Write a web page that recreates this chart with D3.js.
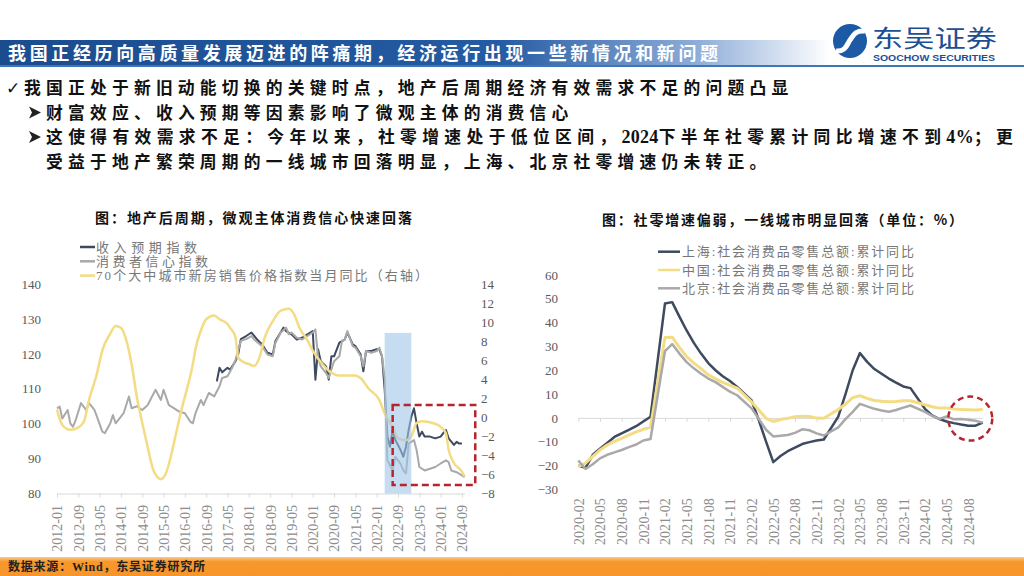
<!DOCTYPE html>
<html>
<head>
<meta charset="utf-8">
<script src="https://cdn.jsdelivr.net/npm/d3@7/dist/d3.min.js"></script>
<style>
html,body{margin:0;padding:0;background:#fff;}
svg{display:block;}
</style>
</head>
<body>
<svg id="slide" width="1024" height="576"></svg>
<script>
// ================= DATA =================
const headerTitle = "我国正经历向高质量发展迈进的阵痛期，经济运行出现一些新情况和新问题";
const bulletLines = [
  "我国正处于新旧动能切换的关键时点，地产后周期经济有效需求不足的问题凸显",
  "财富效应、收入预期等因素影响了微观主体的消费信心",
  "这使得有效需求不足：今年以来，社零增速处于低位区间，2024下半年社零累计同比增速不到4%；更",
  "受益于地产繁荣周期的一线城市回落明显，上海、北京社零增速仍未转正。"
];
const footerText = "数据来源：Wind，东吴证券研究所";

// ---- left chart ----
const leftTitle = "图：地产后周期，微观主体消费信心快速回落";
const leftSeriesNames = ["收入预期指数", "消费者信心指数", "70个大中城市新房销售价格指数当月同比（右轴）"];
const leftFirstMonth = "2012-01", leftLastMonth = "2024-10";
const leftTickLabels = ["2012-01","2012-09","2013-05","2014-01","2014-09","2015-05","2016-01","2016-09","2017-05","2018-01","2018-09","2019-05","2020-01","2020-09","2021-05","2022-01","2022-09","2023-05","2024-01","2024-09"];
const leftAxisTicks = [80, 90, 100, 110, 120, 130, 140];
const rightAxisTicks = [-8, -6, -4, -2, 0, 2, 4, 6, 8, 10, 12, 14];

const incomeExpectation = [
["2017-01",112.1],["2017-02",116.0],["2017-03",114.7],["2017-05",116.0],["2017-06",115.5],["2017-08",117.9],["2017-09",119.8],["2017-10",124.2],["2017-12",125.1],
["2018-02",126.1],["2018-04",124.2],["2018-06",122.7],["2018-08",120.3],["2018-10",119.8],["2018-11",123.7],
["2019-02",127.5],["2019-03",126.5],["2019-05",125.6],["2019-07",124.1],["2019-09",124.6],["2019-11",125.6],
["2020-01",126.5],["2020-02",112.6],["2020-03",121.3],["2020-04",117.9],["2020-06",116.4],["2020-07",112.6],["2020-08",119.3],["2020-09",119.3],["2020-11",123.2],
["2021-01",124.1],["2021-02",126.1],["2021-04",122.7],["2021-05",122.2],["2021-07",119.8],["2021-08",115.0],["2021-09",120.8],["2021-11",120.8],
["2022-01",121.3],["2022-02",121.3],["2022-03",119.3],["2022-04",109.7],["2022-05",96.3],["2022-06",93.4],["2022-07",98.2],["2022-08",95.3],["2022-10",92.4],["2022-11",90.5],["2022-12",93.4],
["2023-01",98.2],["2023-02",102.0],["2023-03",104.4],["2023-04",100.1],["2023-05",96.3],["2023-06",97.7],["2023-07",96.3],["2023-09",96.3],["2023-11",95.8],
["2024-01",96.3],["2024-02",97.3],["2024-03",98.2],["2024-04",95.8],["2024-06",93.9],["2024-07",94.8],["2024-08",94.3],["2024-09",94.3]
];
const consumerConfidence = [
["2012-01",104.4],["2012-02",104.9],["2012-03",101.5],["2012-05",103.9],["2012-06",100.1],["2012-07",99.1],["2012-08",101.0],["2012-10",105.9],["2012-12",103.9],
["2013-01",105.9],["2013-03",104.0],["2013-04",102.0],["2013-06",97.7],["2013-07",97.3],["2013-09",100.1],["2013-10",102.5],["2013-11",100.1],
["2014-01",102.0],["2014-02",103.0],["2014-04",107.8],["2014-05",104.4],["2014-07",105.0],["2014-09",103.9],["2014-11",105.3],["2014-12",106.8],
["2015-02",109.7],["2015-04",106.8],["2015-05",109.7],["2015-07",105.3],["2015-09",104.4],["2015-11",103.4],
["2016-01",103.0],["2016-03",100.6],["2016-04",100.1],["2016-05",103.0],["2016-07",106.8],["2016-08",105.3],["2016-10",108.8],["2016-12",107.8],
["2017-02",110.7],["2017-03",113.1],["2017-05",113.6],["2017-07",116.4],["2017-08",118.3],["2017-10",123.7],["2017-12",124.2],
["2018-02",125.1],["2018-03",124.1],["2018-06",122.2],["2018-08",119.8],["2018-10",119.3],["2018-11",123.2],
["2019-01",126.1],["2019-03",127.5],["2019-04",125.6],["2019-05",126.1],["2019-07",124.6],["2019-09",124.1],["2019-11",125.1],
["2020-01",126.1],["2020-02",127.0],["2020-03",118.9],["2020-04",116.4],["2020-06",114.5],["2020-07",113.1],["2020-09",117.9],["2020-11",119.3],["2020-12",123.7],
["2021-01",124.1],["2021-02",126.5],["2021-04",122.2],["2021-05",121.8],["2021-07",119.3],["2021-08",116.4],["2021-09",120.8],["2021-11",120.3],
["2022-01",120.8],["2022-02",121.8],["2022-03",119.3],["2022-04",113.0],["2022-05",89.5],["2022-07",86.6],["2022-08",90.5],["2022-10",88.5],["2022-11",86.6],["2022-12",85.7],
["2023-01",94.3],["2023-03",95.3],["2023-04",92.4],["2023-05",87.6],["2023-07",86.6],["2023-09",87.1],["2023-11",87.6],
["2024-01",88.6],["2024-03",89.5],["2024-04",89.0],["2024-05",86.6],["2024-07",86.1],["2024-09",85.2],["2024-10",84.7]
];
const housePriceYoY = [
["2012-01",0.8],["2012-03",-0.8],["2012-06",-1.3],["2012-08",-1.2],["2012-11",-0.5],
["2013-01",1.8],["2013-04",4.6],["2013-06",7.0],["2013-09",8.8],["2013-11",9.6],
["2014-01",9.4],["2014-03",8.1],["2014-05",5.6],["2014-07",2.1],["2014-09",-0.6],["2014-11",-3.1],
["2015-01",-5.4],["2015-02",-6.0],["2015-04",-6.5],["2015-06",-5.8],["2015-08",-3.8],["2015-10",-1.3],["2015-12",1.1],
["2016-02",3.2],["2016-04",5.6],["2016-05",7.2],["2016-07",9.1],["2016-09",10.3],["2016-12",10.7],
["2017-02",10.3],["2017-05",9.8],["2017-06",9.4],["2017-08",8.4],["2017-09",6.3],["2017-11",5.8],
["2018-01",5.6],["2018-03",5.4],["2018-05",6.3],["2018-07",8.4],["2018-10",10.1],
["2019-01",11.2],["2019-04",11.4],["2019-06",10.8],["2019-08",9.4],["2019-11",8.1],
["2020-01",7.0],["2020-04",5.8],["2020-07",4.9],["2020-11",4.4],
["2021-02",4.4],["2021-05",4.4],["2021-07",4.1],["2021-10",3.0],
["2022-02",1.8],["2022-04",0.4],["2022-07",-1.0],["2022-09",-2.2],["2022-12",-2.4],
["2023-02",-2.0],["2023-04",-0.6],["2023-06",-0.4],["2023-10",-0.6],
["2024-01",-1.0],["2024-03",-1.7],["2024-04",-3.4],["2024-06",-4.8],["2024-09",-5.7],["2024-10",-6.2]
];
const shadePeriod = ["2022-04", "2023-02"];   // shaded band
const leftBoxPeriod = ["2022-07", "2025-02"]; // dashed highlight box (months)
const leftBoxRange = [1.3, -7.1];             // dashed highlight box (right-axis values)

// ---- right chart ----
const rightTitle = "图：社零增速偏弱，一线城市明显回落（单位：%）";
const rightSeriesNames = ["上海:社会消费品零售总额:累计同比", "中国:社会消费品零售总额:累计同比", "北京:社会消费品零售总额:累计同比"];
const rightFirstMonth = "2020-02", rightLastMonth = "2024-10";
const rightTickLabels = ["2020-02","2020-05","2020-08","2020-11","2021-02","2021-05","2021-08","2021-11","2022-02","2022-05","2022-08","2022-11","2023-02","2023-05","2023-08","2023-11","2024-02","2024-05","2024-08"];
const rightYTicks = [-30, -20, -10, 0, 10, 20, 30, 40, 50, 60];
const rightDates = [
"2020-02","2020-03","2020-04","2020-05","2020-06","2020-07","2020-08","2020-09","2020-10","2020-11","2020-12",
"2021-02","2021-03","2021-04","2021-05","2021-06","2021-07","2021-08","2021-09","2021-10","2021-11","2021-12",
"2022-02","2022-03","2022-04","2022-05","2022-06","2022-07","2022-08","2022-09","2022-10","2022-11","2022-12",
"2023-02","2023-03","2023-04","2023-05","2023-06","2023-07","2023-08","2023-09","2023-10","2023-11","2023-12",
"2024-02","2024-03","2024-04","2024-05","2024-06","2024-07","2024-08","2024-09","2024-10"];
const shanghaiRetail = [-20,-21,-15.5,-13,-10.5,-8,-6.5,-5,-3.5,-1.5,0.5,
  48,48.6,42.5,36.7,31.5,27,23,20,17.5,15.5,13,
  7.3,-1,-10,-18.6,-16,-14,-12.5,-11,-10.2,-9.5,-9.1,
  0.5,10,20,27.2,23.5,20.5,18.5,16.5,14.8,13.2,12.5,
  3.8,1,-0.5,-1.5,-2.2,-2.8,-3.3,-3.3,-2];
const chinaRetail = [-20.5,-19,-16.2,-13.5,-11.4,-9.9,-8.6,-7.2,-5.9,-4.8,-3.9,
  33.8,33.9,29.6,25.7,23,20.7,18.1,16.4,14.9,13.7,12.5,
  6.7,3.3,-0.2,-1.5,-0.7,-0.2,0.5,0.7,0.6,-0.1,-0.2,
  3.5,5.8,8.5,9.3,8.2,7.3,7.0,6.8,6.9,7.2,7.2,
  5.5,4.7,4.1,4.1,3.7,3.5,3.4,3.3,3.5];
const beijingRetail = [-17.9,-21.5,-19.5,-17,-15.5,-14.5,-13.5,-12.3,-11.2,-9.5,-8.9,
  28,31,27,23.4,20.8,18.5,16.5,15,13,11,9.5,
  4,-0.5,-5,-7.8,-7.5,-7.2,-6.3,-4.8,-5.2,-6.5,-7.4,
  -4,-0.5,2.5,5.9,4.8,3.8,3.1,2.6,3.3,4.3,5.2,
  2.5,0.8,-0.4,0.6,-0.6,-0.5,-0.8,-1.2,-2];
const rightCircleAt = ["2024-08", -0.3];

// ================= DRAWING =================
const CJK = "'Noto Sans CJK SC', sans-serif";
const NUM = "'Liberation Serif', 'Noto Sans CJK SC', serif";
const DARK = "#3d4a5f", GRAY = "#a9a9a9", YELLOW = "#f3dc83", RED = "#b5252b";

const svg = d3.select("#slide");
const defs = svg.append("defs");
const parse = s => s.split("-").map(Number);
const monthsFrom = base => s => { const [y, m] = parse(s), [by, bm] = parse(base); return (y - by) * 12 + (m - bm); };

// ---------- header ----------
const bg = defs.append("linearGradient").attr("id", "banner").attr("x1", 0).attr("x2", 1).attr("y1", 0).attr("y2", 0);
[[0, "#1b4c8e"], [0.6, "#245ba3"], [0.84, "#8eadd8"], [1, "#ffffff"]]
  .forEach(([o, c]) => bg.append("stop").attr("offset", o).attr("stop-color", c));
svg.append("rect").attr("x", 0).attr("y", 40).attr("width", 830).attr("height", 26).attr("fill", "url(#banner)");
svg.append("rect").attr("x", 0).attr("y", 65).attr("width", 1024).attr("height", 2).attr("fill", "#3f76b9");
svg.append("text").attr("x", 8).attr("y", 60).text(headerTitle)
  .attr("font-family", CJK).attr("font-size", 18).attr("font-weight", "bold").attr("fill", "#fff")
  .attr("textLength", 710).attr("lengthAdjust", "spacing");

// logo
const logo = svg.append("g");
logo.append("circle").attr("cx", 850).attr("cy", 41).attr("r", 17).attr("fill", "#1c5aa6");
logo.append("path").attr("d", "M836,51 C846,52 847,44 850,40 C853,36 855,30 865,31")
  .attr("fill", "none").attr("stroke", "#fff").attr("stroke-width", 5);
logo.append("text").attr("x", 872).attr("y", 47).text("东吴证券")
  .attr("font-family", CJK).attr("font-size", 24).attr("fill", "#1c4f94")
  .attr("textLength", 125).attr("lengthAdjust", "spacingAndGlyphs");
logo.append("text").attr("x", 873).attr("y", 61).text("SOOCHOW SECURITIES")
  .attr("font-family", "'Liberation Sans', sans-serif").attr("font-size", 8.5).attr("font-weight", "bold").attr("fill", "#1c4f94")
  .attr("textLength", 122).attr("lengthAdjust", "spacingAndGlyphs");

// ---------- bullets ----------
const bl = svg.append("g").attr("font-family", CJK).attr("fill", "#111");
bl.append("text").attr("x", 6).attr("y", 94).text("✓").attr("font-family", "'DejaVu Sans'").attr("font-size", 17);
const arrowAt = [112.5, 137];
arrowAt.forEach(cy => {
  bl.append("path").attr("d", `M29,${cy - 6} L41,${cy} L29,${cy + 6} L32,${cy} Z`).attr("fill", "#222");
});
const bulletPos = [[24, 94, 5.2], [46, 118.5, 5.2], [46, 143, 5.35], [46, 167.5, 5.2]];
bulletLines.forEach((t, i) => {
  const [x, y, sp] = bulletPos[i];
  const tx = bl.append("text").attr("x", x).attr("y", y).attr("font-size", 16.8).attr("font-weight", "bold");
  const segs = t.split(/(\d+%?)/).filter(s => s.length);
  segs.forEach((seg, j) => {
    const isNum = /^\d/.test(seg);
    const last = j === segs.length - 1;
    // no trailing spacing after the final glyph: put the last char in its own tspan
    const body = last ? seg.slice(0, -1) : seg;
    if (body.length) tx.append("tspan").text(body)
      .attr("font-family", isNum ? "'Liberation Serif'" : CJK)
      .attr("font-size", isNum ? 18 : 16.8)
      .attr("letter-spacing", isNum ? 0.3 : sp);
    if (last) tx.append("tspan").text(seg.slice(-1))
      .attr("font-family", isNum ? "'Liberation Serif'" : CJK)
      .attr("font-size", isNum ? 18 : 16.8);
  });
});

// ---------- footer ----------
const fg = defs.append("linearGradient").attr("id", "foot").attr("x1", 0).attr("x2", 0).attr("y1", 0).attr("y2", 1);
[[0, "#fbc98a"], [0.25, "#f7982b"], [1, "#f7952a"]].forEach(([o, c]) => fg.append("stop").attr("offset", o).attr("stop-color", c));
svg.append("rect").attr("x", 0).attr("y", 557).attr("width", 1024).attr("height", 19).attr("fill", "url(#foot)");
svg.append("text").attr("x", 8).attr("y", 571).text(footerText)
  .attr("font-family", "'Liberation Serif', 'Noto Sans CJK SC'").attr("font-size", 12).attr("font-weight", "bold").attr("fill", "#222")
  .attr("textLength", 197).attr("lengthAdjust", "spacing");

// ================= LEFT CHART =================
const L = svg.append("g");
const lIdx = monthsFrom(leftFirstMonth);
const xL = d3.scaleLinear().domain([0, lIdx(leftLastMonth)]).range([57, 464.6]);
const yL = d3.scaleLinear().domain([80, 140]).range([493.5, 284]);
const yL2 = d3.scaleLinear().domain([-8, 14]).range([493.5, 284]);

L.append("text").attr("x", 95).attr("y", 223).text(leftTitle)
  .attr("font-family", CJK).attr("font-size", 14).attr("font-weight", "bold").attr("fill", "#111")
  .attr("textLength", 317).attr("lengthAdjust", "spacing");

const leftLegendColors = [DARK, GRAY, YELLOW];
const leftLegendLen = [101, 112, 332];
leftSeriesNames.forEach((n, i) => {
  const y = 247 + i * 14.3;
  L.append("line").attr("x1", 80).attr("x2", 95).attr("y1", y).attr("y2", y).attr("stroke", leftLegendColors[i]).attr("stroke-width", 2.5);
  L.append("text").attr("x", 96).attr("y", y + 4.5).text(n)
    .attr("font-family", NUM).attr("font-size", 13).attr("fill", "#777")
    .attr("textLength", leftLegendLen[i]).attr("lengthAdjust", "spacing");
});

// axes
const axL = L.append("g").attr("transform", "translate(44,0)")
  .call(d3.axisLeft(yL).tickValues(leftAxisTicks).tickSize(0).tickPadding(3));
axL.select(".domain").remove();
axL.selectAll("text").attr("font-family", NUM).attr("font-size", 13).attr("fill", "#595959");

const axR = L.append("g").attr("transform", "translate(478,0)")
  .call(d3.axisRight(yL2).tickValues(rightAxisTicks).tickSize(0).tickPadding(3));
axR.select(".domain").remove();
axR.selectAll("text").attr("font-family", NUM).attr("font-size", 13).attr("fill", "#595959");

const axB = L.append("g").attr("transform", "translate(0,493.5)")
  .call(d3.axisBottom(xL).tickValues(leftTickLabels.map(lIdx)).tickFormat((d, i) => leftTickLabels[i]).tickSize(4).tickSizeOuter(0));
axB.select(".domain").attr("stroke", "#d9d9d9");
axB.selectAll(".tick line").attr("stroke", "#d9d9d9");
axB.selectAll("text").attr("transform", "rotate(-90)").attr("text-anchor", "end")
  .attr("x", -11.5).attr("y", 0).attr("dy", "0.35em")
  .attr("font-family", NUM).attr("font-size", 14).attr("fill", "#8c8c8c");

// lines
const lineL = d3.line().x(d => xL(lIdx(d[0]))).y(d => yL(d[1]));
const lineL2 = d3.line().x(d => xL(lIdx(d[0]))).y(d => yL2(d[1])).curve(d3.curveMonotoneX);
L.append("path").datum(incomeExpectation).attr("d", lineL).attr("fill", "none").attr("stroke", DARK).attr("stroke-width", 2).attr("stroke-linejoin", "round");
L.append("path").datum(consumerConfidence).attr("d", lineL).attr("fill", "none").attr("stroke", GRAY).attr("stroke-width", 2).attr("stroke-linejoin", "round");
L.append("path").datum(housePriceYoY).attr("d", lineL2).attr("fill", "none").attr("stroke", YELLOW).attr("stroke-width", 2.5);

// shaded band
L.append("rect")
  .attr("x", xL(lIdx(shadePeriod[0]))).attr("width", xL(lIdx(shadePeriod[1])) - xL(lIdx(shadePeriod[0])))
  .attr("y", yL(126)).attr("height", yL(80) - yL(126))
  .attr("fill", "#9fc5e8").attr("opacity", 0.6);

// dashed box
L.append("rect")
  .attr("x", xL(lIdx(leftBoxPeriod[0]))).attr("width", xL(lIdx(leftBoxPeriod[1])) - xL(lIdx(leftBoxPeriod[0])))
  .attr("y", yL2(leftBoxRange[0])).attr("height", yL2(leftBoxRange[1]) - yL2(leftBoxRange[0]))
  .attr("fill", "none").attr("stroke", RED).attr("stroke-width", 2.5).attr("stroke-dasharray", "7,4");

// ================= RIGHT CHART =================
const R = svg.append("g");
const rIdx = monthsFrom(rightFirstMonth);
const xR = d3.scaleLinear().domain([0, rIdx(rightLastMonth)]).range([578.3, 982.7]);
const yR = d3.scaleLinear().domain([-30, 60]).range([489.3, 275]);

R.append("text").attr("x", 602).attr("y", 225).text(rightTitle)
  .attr("font-family", CJK).attr("font-size", 14).attr("font-weight", "bold").attr("fill", "#111")
  .attr("textLength", 361).attr("lengthAdjust", "spacing");

const rightColors = [DARK, YELLOW, GRAY];
rightSeriesNames.forEach((n, i) => {
  const y = 251.7 + i * 18.3;
  R.append("line").attr("x1", 658).attr("x2", 680).attr("y1", y).attr("y2", y).attr("stroke", rightColors[i]).attr("stroke-width", 2.5);
  R.append("text").attr("x", 682).attr("y", y + 4.5).text(n)
    .attr("font-family", NUM).attr("font-size", 13).attr("fill", "#777")
    .attr("textLength", 232).attr("lengthAdjust", "spacing");
});

const ayR = R.append("g").attr("transform", "translate(561,0)")
  .call(d3.axisLeft(yR).tickValues(rightYTicks).tickSize(0).tickPadding(3));
ayR.select(".domain").remove();
ayR.selectAll("text").attr("font-family", NUM).attr("font-size", 13).attr("fill", "#595959");

const tickIdx = rightTickLabels.map(rIdx);
const zeroAx = R.append("g").attr("transform", `translate(0,${yR(0)})`)
  .call(d3.axisBottom(xR).tickValues(tickIdx).tickFormat("").tickSize(4).tickSizeOuter(0));
zeroAx.select(".domain").attr("stroke", "#d9d9d9");
zeroAx.selectAll(".tick line").attr("stroke", "#d9d9d9");

const labAx = R.append("g").attr("transform", `translate(0,${yR(-30)})`)
  .call(d3.axisBottom(xR).tickValues(tickIdx).tickFormat((d, i) => rightTickLabels[i]).tickSize(0));
labAx.select(".domain").remove();
labAx.selectAll("text").attr("transform", "rotate(-90)").attr("text-anchor", "end")
  .attr("x", -9).attr("y", 0).attr("dy", "0.35em")
  .attr("font-family", NUM).attr("font-size", 14).attr("fill", "#8c8c8c");

const lineR = d3.line().x((d, i) => xR(rIdx(rightDates[i]))).y(d => yR(d));
[[shanghaiRetail, DARK, 2.5], [chinaRetail, YELLOW, 3], [beijingRetail, GRAY, 2.5]].forEach(([vals, c, w]) => {
  R.append("path").datum(vals).attr("d", lineR).attr("fill", "none").attr("stroke", c).attr("stroke-width", w).attr("stroke-linejoin", "round");
});

R.append("circle").attr("cx", xR(rIdx(rightCircleAt[0])) + 2).attr("cy", yR(rightCircleAt[1])).attr("r", 22)
  .attr("fill", "none").attr("stroke", RED).attr("stroke-width", 2.5).attr("stroke-dasharray", "6,4");
</script>
</body>
</html>
